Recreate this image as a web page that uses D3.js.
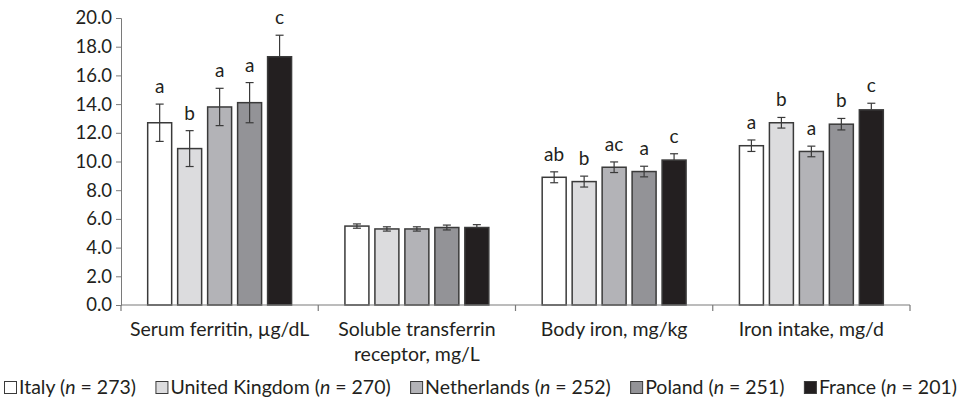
<!DOCTYPE html>
<html>
<head>
<meta charset="utf-8">
<script src="https://cdn.jsdelivr.net/npm/d3@7"></script>
<style>
  body { margin: 0; background: #fff; }
  svg text { font-family: Lato, "Open Sans", sans-serif; fill: #231f20; }
</style>
</head>
<body>
<div id="chart"></div>
<script>
const categories = ["Serum ferritin, µg/dL", "Soluble transferrin|receptor, mg/L", "Body iron, mg/kg", "Iron intake, mg/d"];
const countries = ["Italy", "United Kingdom", "Netherlands", "Poland", "France"];
const sampleSizes = [273, 270, 252, 251, 201];
const colors = ["#ffffff", "#dcdcde", "#b3b3b7", "#939397", "#231f20"];

// mean per category, one array per country
const italy = [12.7, 5.5, 8.9, 11.1];
const uk = [10.9, 5.3, 8.6, 12.7];
const netherlands = [13.8, 5.3, 9.6, 10.7];
const poland = [14.1, 5.4, 9.3, 12.6];
const france = [17.3, 5.4, 10.1, 13.6];

// half width of the error bars
const italyErr = [1.3, 0.15, 0.38, 0.4];
const ukErr = [1.25, 0.15, 0.38, 0.37];
const netherlandsErr = [1.3, 0.15, 0.37, 0.37];
const polandErr = [1.4, 0.17, 0.37, 0.4];
const franceErr = [1.5, 0.2, 0.44, 0.46];

const italyLetters = ["a", "", "ab", "a"];
const ukLetters = ["b", "", "b", "b"];
const netherlandsLetters = ["a", "", "ac", "a"];
const polandLetters = ["a", "", "a", "b"];
const franceLetters = ["c", "", "c", "c"];

const yTicks = [0, 2, 4, 6, 8, 10, 12, 14, 16, 18, 20];

const means = [italy, uk, netherlands, poland, france];
const errs = [italyErr, ukErr, netherlandsErr, polandErr, franceErr];
const letters = [italyLetters, ukLetters, netherlandsLetters, polandLetters, franceLetters];

const width = 961, height = 403;
const margin = { left: 121, right: 51, top: 18, bottom: 98 };

const svg = d3.select("#chart").append("svg")
  .attr("width", width)
  .attr("height", height);

const x0 = d3.scaleBand()
  .domain(categories)
  .range([margin.left, width - margin.right]);

const x1 = d3.scaleBand()
  .domain(countries)
  .range([0, x0.bandwidth()])
  .paddingInner(0.2)
  .paddingOuter(0.89);

const y = d3.scaleLinear()
  .domain([0, 20])
  .range([height - margin.bottom, margin.top]);

const axisColor = "#7a7a7a";

// y axis
const yAxis = svg.append("g")
  .attr("transform", `translate(${margin.left},0)`)
  .call(d3.axisLeft(y).tickValues(yTicks).tickFormat(d3.format(".1f")).tickSize(5).tickSizeOuter(5));
yAxis.selectAll("path, line").attr("stroke", axisColor);
yAxis.selectAll("text")
  .attr("font-size", 18.5)
  .attr("x", -9)
  .style("font-family", "Lato, sans-serif")
  .attr("fill", "#231f20");

// bars
const data = [];
categories.forEach((c, ci) => {
  countries.forEach((k, ki) => {
    data.push({ cat: c, country: k, ki, value: means[ki][ci], err: errs[ki][ci], letter: letters[ki][ci] });
  });
});

svg.append("g").selectAll("rect")
  .data(data)
  .join("rect")
  .attr("x", d => x0(d.cat) + x1(d.country))
  .attr("y", d => y(d.value))
  .attr("width", x1.bandwidth())
  .attr("height", d => y(0) - y(d.value))
  .attr("fill", d => colors[d.ki])
  .attr("stroke", "#3a3a3a")
  .attr("stroke-width", 1.5);

// error bars
const eb = svg.append("g").attr("stroke", "#3a3a3a").attr("stroke-width", 1.2);
const cap = 4;
data.forEach(d => {
  const cx = x0(d.cat) + x1(d.country) + x1.bandwidth() / 2;
  const lo = y(d.value - d.err), hi = y(d.value + d.err);
  eb.append("line").attr("x1", cx).attr("x2", cx).attr("y1", d.ki === 4 ? y(d.value) : lo).attr("y2", hi);
  eb.append("line").attr("x1", cx - cap).attr("x2", cx + cap).attr("y1", hi).attr("y2", hi);
  if (d.ki !== 4) eb.append("line").attr("x1", cx - cap).attr("x2", cx + cap).attr("y1", lo).attr("y2", lo);
});

// significance letters
svg.append("g").selectAll("text")
  .data(data.filter(d => d.letter))
  .join("text")
  .attr("x", d => x0(d.cat) + x1(d.country) + x1.bandwidth() / 2)
  .attr("y", d => y(d.value + d.err) - 11)
  .attr("text-anchor", "middle")
  .attr("font-size", 19)
  .text(d => d.letter);

// x axis
const base = y(0);
const xa = svg.append("g").attr("stroke", axisColor).attr("stroke-width", 1.2);
xa.append("line").attr("x1", margin.left).attr("x2", width - margin.right).attr("y1", base).attr("y2", base);
const bounds = categories.map(c => x0(c)).concat([x0.range()[1]]);
xa.selectAll("line.tick")
  .data(bounds)
  .join("line")
  .attr("class", "tick")
  .attr("x1", d => d).attr("x2", d => d)
  .attr("y1", base).attr("y2", base + 6);

// category labels
svg.append("g").selectAll("text")
  .data(categories)
  .join("text")
  .attr("x", d => x0(d) + x0.bandwidth() / 2)
  .attr("y", base + 31)
  .attr("text-anchor", "middle")
  .attr("font-size", 19.5)
  .each(function (d) {
    d.split("|").forEach((line, i) => {
      d3.select(this).append("tspan")
        .attr("x", x0(d) + x0.bandwidth() / 2)
        .attr("dy", i === 0 ? 0 : 25)
        .text(line);
    });
  });

// legend: items flow left to right, then spread to fill the row
const legend = svg.append("g").attr("transform", "translate(0,380)");
const items = countries.map((k, i) => {
  const g = legend.append("g");
  g.append("rect").attr("x", 0.5).attr("y", 1.5).attr("width", 12).attr("height", 12)
    .attr("fill", colors[i]).attr("stroke", "#3a3a3a").attr("stroke-width", 1);
  const t = g.append("text").attr("x", 15).attr("y", 14).attr("font-size", 19.5);
  t.append("tspan").text(`${k} (`);
  t.append("tspan").attr("font-style", "italic").text("n");
  t.append("tspan").text(` = ${sampleSizes[i]})`);
  return { g, w: 15 + t.node().getComputedTextLength() };
});
const legendStart = 4, legendEnd = 957;
const total = d3.sum(items, d => d.w);
const gap = (legendEnd - legendStart - total) / (items.length - 1);
let cx = legendStart;
items.forEach(d => {
  d.g.attr("transform", `translate(${cx},0)`);
  cx += d.w + gap;
});
</script>
</body>
</html>
